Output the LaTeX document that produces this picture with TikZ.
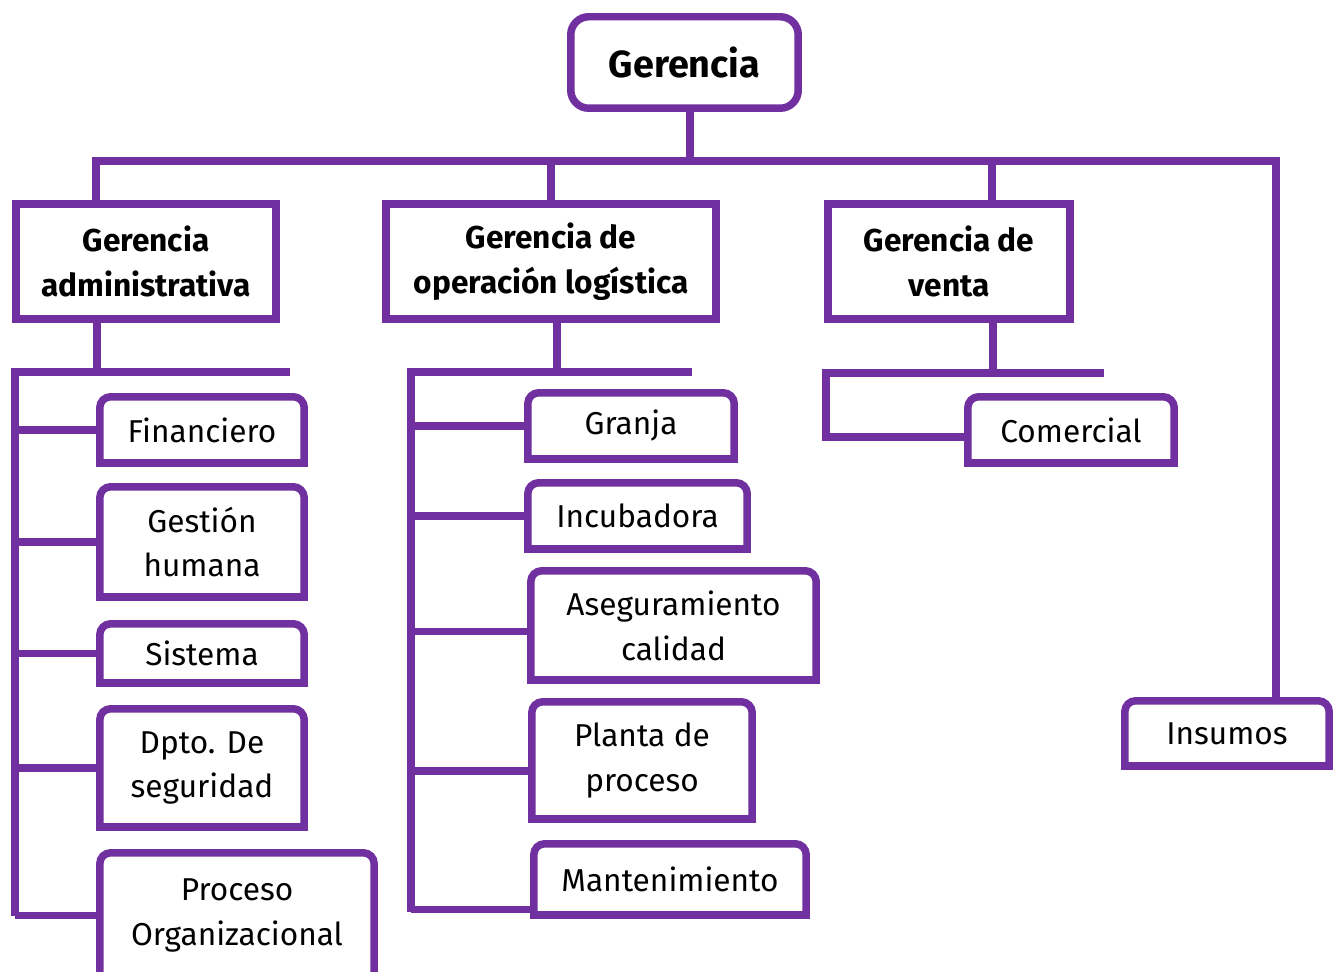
\documentclass[tikz,border=0pt]{standalone}
\usepackage{fontspec}
\setmainfont{Fira Sans}
\usepackage{tikz}
\definecolor{morado}{RGB}{112,48,160}

\tikzset{
  linea/.style={draw=morado,line width=0.15cm},
  caja/.style={inner sep=0pt,outer sep=0pt,align=center,font=\fontsize{18}{25.5}\selectfont},
  cajaraiz/.style={caja,linea,rounded corners=0.36cm,font=\fontsize{21.5}{26}\selectfont\bfseries},
  cajagerencia/.style={caja,linea,font=\fontsize{18}{25.5}\selectfont\bfseries},
  cajaarea/.style={caja}
}

\begin{document}
\begin{tikzpicture}[x=0.02cm,y=-0.02cm]
\useasboundingbox (0,0) rectangle (1335,972);
\clip (0,0) rectangle (1335,972);

% cajas
\node (ger) at (684.5,62.5) [cajaraiz,minimum width=4.55cm,minimum height=1.83cm] {Gerencia};
\node (adm) at (146,261.5) [cajagerencia,minimum width=5.21cm,minimum height=2.31cm] {Gerencia\\administrativa};
\node (ope) at (551,261.5) [cajagerencia,minimum width=6.61cm,minimum height=2.31cm] {Gerencia de\\operación logística};
\node (ven) at (949,261.5) [cajagerencia,minimum width=4.85cm,minimum height=2.31cm] {Gerencia de\\venta};

\node (fin) at (202,430) [cajaarea,minimum width=4.09cm,minimum height=1.33cm] {Financiero};
\node (ges) at (202,542) [cajaarea,minimum width=4.09cm,minimum height=2.21cm] {Gestión\\humana};
\node (sis) at (202,653.5) [cajaarea,minimum width=4.09cm,minimum height=1.19cm] {Sistema};
\node (dpt) at (202,768) [cajaarea,minimum width=4.09cm,minimum height=2.37cm] {Dpto. De\\seguridad};
\node (pro) at (237,915.5) [cajaarea,minimum width=5.49cm,minimum height=2.51cm] {Proceso\\Organizacional};

\node (gra) at (631,426) [cajaarea,minimum width=4.13cm,minimum height=1.33cm] {Granja};
\node (inc) at (637.5,516) [cajaarea,minimum width=4.39cm,minimum height=1.33cm] {Incubadora};
\node (ase) at (673.5,625.5) [cajaarea,minimum width=5.71cm,minimum height=2.19cm] {Aseguramiento\\calidad};
\node (pla) at (642,760.5) [cajaarea,minimum width=4.41cm,minimum height=2.35cm] {Planta de\\proceso};
\node (man) at (670,879.5) [cajaarea,minimum width=5.45cm,minimum height=1.43cm] {Mantenimiento};

\node (com) at (1071,430) [cajaarea,minimum width=4.13cm,minimum height=1.33cm] {Comercial};
\node (ins) at (1227,733.5) [cajaarea,minimum width=4.09cm,minimum height=1.31cm] {Insumos};

% bordes redondeados arriba
\foreach \n in {fin,ges,sis,dpt,pro,gra,inc,ase,pla,man,com,ins} {
  \draw [linea,rounded corners=0.22cm] (\n.south west) -- (\n.north west) -- (\n.north east) -- (\n.south east);
  \draw [linea,line cap=rect] (\n.south west) -- (\n.south east);
}

% barra principal
\coordinate (barra) at (96,161);
\draw [linea] (ger.south -| 690,0) -- (barra -| 690,0);
\draw [linea] (adm.north -| barra) -- (barra) -- (1276,161) -- (ins.north -| 1276,0);
\draw [linea] (barra -| ope.north) -- (ope.north);
\draw [linea] (barra -| 992,0) -- (ven.north -| 992,0);

% rama administrativa
\coordinate (admriel) at (15,372);
\draw [linea] (adm.south -| 97,0) -- (97,372);
\draw [linea] (290,372) -- (admriel) -- (15,916);
\foreach \n in {fin,ges,sis,dpt,pro}
  \draw [linea] (admriel |- \n.west) -- (\n.west);

% rama operacion
\coordinate (operiel) at (411,372);
\draw [linea] (ope.south -| 557,0) -- (557,372);
\draw [linea] (692,372) -- (operiel) -- (411,912);
\draw [linea] (operiel |- gra.west) -- (gra.west);
\draw [linea] (operiel |- inc.west) -- (inc.west);
\draw [linea] ([yshift=-3.5pt]operiel |- ase.west) -- ([yshift=-3.5pt]ase.west);
\draw [linea] ([yshift=-6pt]operiel |- pla.west) -- ([yshift=-6pt]pla.west);
\draw [linea] ([yshift=3.4pt]operiel |- man.south west) -- ([yshift=3.4pt]man.south west);

% rama venta
\coordinate (venriel) at (826,373);
\draw [linea] (ven.south -| 993,0) -- (993,373);
\draw [linea] (1104,373) -- (venriel) -- ([yshift=-4pt]venriel |- com.west) -- ([yshift=-4pt]com.west);
\end{tikzpicture}
\end{document}
